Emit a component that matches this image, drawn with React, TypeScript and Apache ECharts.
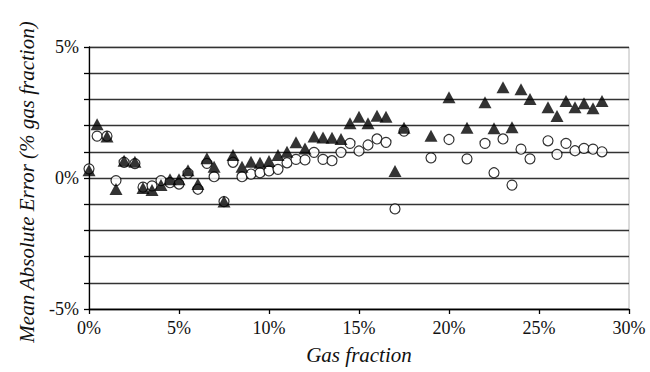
import React, { useEffect, useRef } from "react";
import * as echarts from "echarts";

const gasFraction = [
  0, 0.45, 1.0, 1.5, 1.95, 2.55, 3.0, 3.5, 4.0, 4.5, 5.0, 5.5, 6.05, 6.55, 6.95, 7.5,
  8.0, 8.5, 9.0, 9.5, 10.0, 10.5, 11.0, 11.5, 12.0, 12.5, 13.0, 13.5, 14.0, 14.5, 15.0,
  15.5, 16.0, 16.5, 17.0, 17.5, 19.0, 20.0, 21.0, 22.0, 22.5, 23.0, 23.5, 24.0, 24.5,
  25.5, 26.0, 26.5, 27.0, 27.5, 28.0, 28.5,
];

const triangleError = [
  0.3, 2.05, 1.58, -0.42, 0.66, 0.62, -0.38, -0.46, -0.27, -0.05, -0.05, 0.3, -0.23, 0.75,
  0.43, -0.9, 0.88, 0.43, 0.62, 0.58, 0.65, 0.88, 1.0, 1.36, 1.13, 1.58, 1.55, 1.54, 1.49,
  2.09, 2.34, 2.09, 2.38, 2.34, 0.27, 1.92, 1.61, 3.08, 1.92, 2.89, 1.9, 3.46, 1.94, 3.39,
  3.02, 2.7, 2.37, 2.94, 2.7, 2.85, 2.66, 2.94,
];

const circleError = [
  0.35, 1.6, 1.6, -0.1, 0.6, 0.55, -0.35, -0.3, -0.1, -0.18, -0.23, 0.18, -0.43, 0.56,
  0.05, -0.9, 0.6, 0.05, 0.15, 0.2, 0.27, 0.33, 0.58, 0.71, 0.69, 0.98, 0.71, 0.66, 0.98,
  1.32, 1.03, 1.26, 1.49, 1.36, -1.18, 1.79, 0.77, 1.47, 0.73, 1.32, 0.2, 1.49, -0.27, 1.1,
  0.73, 1.42, 0.9, 1.32, 1.04, 1.13, 1.1, 1.0,
];

const yLabelValues = [5, 0, -5];
const xAxisTitle = "Gas fraction";
const yAxisTitle = "Mean Absolute Error (% gas fraction)";

const FONT = "'Liberation Serif', serif";

export default function App() {
  const ref = useRef<HTMLDivElement>(null);

  useEffect(() => {
    if (!ref.current) return;
    const chart = echarts.init(ref.current, undefined, { renderer: "svg" });
    const circles = gasFraction.map((x, i) => [x, circleError[i]]);
    const triangles = gasFraction.map((x, i) => [x, triangleError[i]]);
    chart.setOption({
      animation: false,
      backgroundColor: "#ffffff",
      textStyle: { fontFamily: FONT },
      grid: {
        left: 89,
        right: 21,
        top: 47,
        bottom: 63,
        show: true,
        borderColor: "#b8b8b8",
        borderWidth: 1,
      },
      xAxis: {
        type: "value",
        min: 0,
        max: 30,
        interval: 5,
        axisLine: { show: true, onZero: false, lineStyle: { color: "#000", width: 1.3 } },
        axisTick: { show: true, length: 5, lineStyle: { color: "#000", width: 1.3 } },
        splitLine: { show: false },
        axisLabel: {
          formatter: (v: number) => `${v}%`,
          color: "#111",
          fontFamily: FONT,
          fontSize: 18,
          margin: 10,
        },
      },
      yAxis: {
        type: "value",
        min: -5,
        max: 5,
        interval: 1,
        axisLine: { show: true, onZero: false, lineStyle: { color: "#000", width: 1.3 } },
        axisTick: { show: true, length: 5, lineStyle: { color: "#000", width: 1.3 } },
        splitLine: { show: true, lineStyle: { color: "#333", width: 1.3 } },
        axisLabel: {
          formatter: (v: number) => (yLabelValues.includes(v) ? `${v}%` : ""),
          color: "#111",
          fontFamily: FONT,
          fontSize: 18,
          margin: 10,
        },
      },
      graphic: [
        {
          type: "text",
          x: 359,
          y: 355,
          style: {
            text: xAxisTitle,
            fontFamily: FONT,
            fontSize: 21,
            fontStyle: "italic",
            fill: "#111",
            align: "center",
            verticalAlign: "middle",
          },
        },
        {
          type: "text",
          x: 27,
          y: 182,
          rotation: Math.PI / 2,
          style: {
            text: yAxisTitle,
            fontFamily: FONT,
            fontSize: 21,
            fontStyle: "italic",
            fill: "#111",
            align: "center",
            verticalAlign: "middle",
          },
        },
      ],
      series: [
        {
          type: "scatter",
          data: circles,
          symbol: "circle",
          symbolSize: 10,
          itemStyle: { color: "#fff", borderColor: "#000", borderWidth: 1.2 },
          z: 2,
        },
        {
          type: "scatter",
          data: triangles,
          symbol: "triangle",
          symbolSize: [13, 12],
          itemStyle: { color: "#000" },
          z: 3,
        },
      ],
    });
    return () => chart.dispose();
  }, []);

  return (
    <div
      ref={ref}
      style={{ position: "fixed", left: 0, top: 0, width: 650, height: 372, background: "#fff" }}
    />
  );
}
